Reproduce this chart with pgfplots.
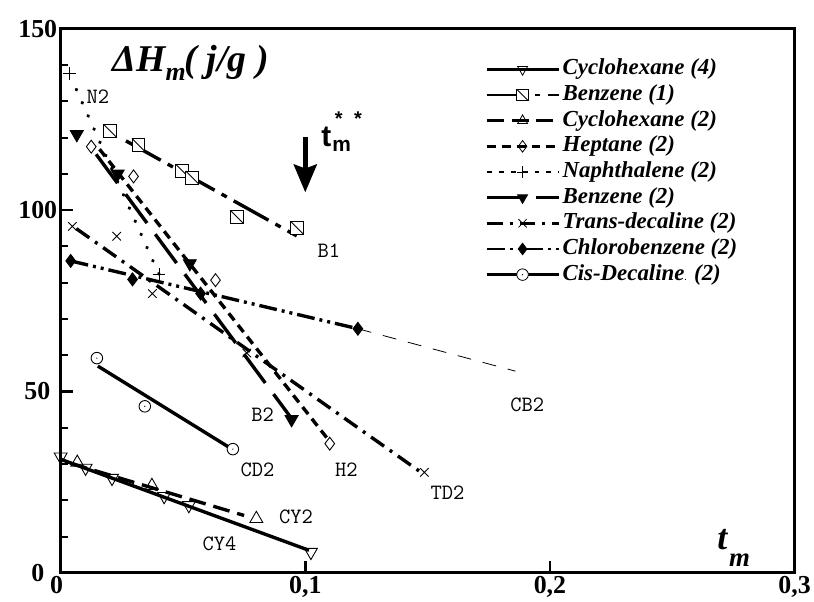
\documentclass[border=0pt]{standalone}
\usepackage{fontspec}
\setmainfont{Liberation Serif}
\newfontfamily\sansfont{Liberation Sans}
\usepackage{pgfplots}
\pgfplotsset{compat=1.18}
\usetikzlibrary{arrows.meta}

% square with a diagonal stroke
\pgfdeclareplotmark{sqdiag}{%
  \pgfpathrectangle{\pgfqpoint{-\pgfplotmarksize}{-\pgfplotmarksize}}{\pgfqpoint{2\pgfplotmarksize}{2\pgfplotmarksize}}%
  \pgfusepathqfillstroke
  \pgfpathmoveto{\pgfqpoint{-\pgfplotmarksize}{\pgfplotmarksize}}%
  \pgfpathlineto{\pgfqpoint{\pgfplotmarksize}{-\pgfplotmarksize}}%
  \pgfusepathqstroke}
% circle with a centre dot
\pgfdeclareplotmark{odot}{%
  \pgfpathcircle{\pgfpointorigin}{\pgfplotmarksize}%
  \pgfusepathqfillstroke
  \begin{pgfscope}%
    \pgfsetfillcolor{black}%
    \pgfpathcircle{\pgfpointorigin}{0.7pt}%
    \pgfusepathqfill
  \end{pgfscope}}

\pgfplotsset{
  fitline/.style={black, line width=3.4pt, no marks},
  pts/.style={black, only marks, mark options={solid, fill=white, line width=0.9pt}},
  sCYfour/.style={mark=triangle, mark size=7.5pt, every mark/.append style={rotate=180}},
  sBone/.style={mark=sqdiag, mark size=6.5pt},
  sCYtwo/.style={mark=triangle, mark size=7.5pt},
  sHtwo/.style={mark=diamond, mark size=6.5pt},
  sNtwo/.style={mark=+, mark size=6.5pt},
  sBtwo/.style={mark=triangle*, mark size=7.5pt, every mark/.append style={rotate=180, fill=black}},
  sTDtwo/.style={mark=x, mark size=6pt},
  sCBtwo/.style={mark=diamond*, mark size=6.5pt, every mark/.append style={fill=black}},
  sCDtwo/.style={mark=odot, mark size=5.8pt},
  dCYtwo/.style={dash pattern=on 17pt off 8pt},
  dBone/.style={dash pattern=on 40pt off 8pt on 6pt off 8pt},
  dHtwo/.style={dash pattern=on 9pt off 6pt},
  dNtwo/.style={line cap=round, dash pattern=on 0.5pt off 14pt},
  dBtwo/.style={dash pattern=on 36pt off 14pt},
  dTDtwo/.style={dash pattern=on 16pt off 7pt on 3pt off 7pt},
  dCBtwo/.style={dash pattern=on 18pt off 5pt on 3pt off 5pt on 3pt off 5pt},
  leg/.style={black, line width=2.5pt, mark options={solid, fill=white, line width=0.8pt, mark size=5.8pt}},
}

\begin{document}
\begin{tikzpicture}
\begin{axis}[
  scale only axis, width=738pt, height=547pt,
  xmin=0, xmax=0.3, ymin=0, ymax=150,
  axis line style={line width=3pt},
  xtick={0,0.1,0.2,0.3}, xticklabels={{0\kern8pt},{0,1},{0,2},{0,3}},
  ytick={0,50,100,150}, yticklabels={{0\kern13pt},{50\kern7pt},100,150},
  minor ytick={10,20,30,40,60,70,80,90,110,120,130,140},
  tick align=inside, xtick pos=left, ytick pos=left,
  major tick length=12pt, minor tick length=7pt,
  every tick/.style={black, line width=2.5pt},
  every minor tick/.style={black, line width=2pt},
  ticklabel style={font=\fontsize{26}{26}\selectfont\bfseries},
  clip=false,
  legend image code/.code={\draw[mark repeat=2, mark phase=2, #1] plot coordinates {(0pt,0pt) (36pt,0pt) (73pt,0pt)};},
  legend style={at={(axis cs:0.1736,142.3)}, anchor=north west, draw=none, fill=none,
    inner sep=0pt, row sep=0.8pt,
    font=\fontsize{23}{23}\selectfont\bfseries\itshape,
    nodes={inner sep=2pt, text height=16pt, text depth=5pt}},
  legend cell align=left,
]

% legend entries
\addlegendimage{leg, sCYfour}
\addlegendentry{Cyclohexane (4)}
\addlegendimage{leg, sBone, dBone}
\addlegendentry{Benzene (1)}
\addlegendimage{leg, sCYtwo, dCYtwo}
\addlegendentry{Cyclohexane (2)}
\addlegendimage{leg, sHtwo, dHtwo}
\addlegendentry{Heptane (2)}
\addlegendimage{leg, sNtwo, dash pattern=on 5pt off 7pt}
\addlegendentry{Naphthalene (2)}
\addlegendimage{leg, sBtwo, dBtwo}
\addlegendentry{Benzene (2)}
\addlegendimage{leg, sTDtwo, dTDtwo}
\addlegendentry{Trans-decaline (2)}
\addlegendimage{leg, sCBtwo, dCBtwo}
\addlegendentry{Chlorobenzene (2)}
\addlegendimage{leg, sCDtwo}
\addlegendentry{Cis-Decaline{\fontsize{8}{8}\selectfont\upshape.} (2)}

% fitted lines
\addplot[fitline, forget plot] coordinates {(0.0,31.3) (0.1015,6.2)};
\addplot[fitline, dCYtwo, forget plot] coordinates {(0.004,30.2) (0.075,15.8)};
\addplot[fitline, forget plot] coordinates {(0.0152,57.0) (0.0703,34.0)};
\addplot[fitline, dBone, forget plot] coordinates {(0.0267,119.1) (0.0965,92.9)};
\addplot[fitline, dBtwo, forget plot] coordinates {(0.0145,115.4) (0.0951,41.9)};
\addplot[fitline, dHtwo, forget plot] coordinates {(0.0159,116.8) (0.1093,36.8)};
\addplot[fitline, dNtwo, forget plot] coordinates {(0.0064,133.3) (0.0402,82.3)};
\addplot[fitline, dTDtwo, forget plot] coordinates {(0.0064,94.9) (0.1473,27.7)};
\addplot[fitline, dCBtwo, forget plot] coordinates {(0.0041,86.0) (0.1215,67.3)};
\addplot[black, line width=0.8pt, dash pattern=on 14pt off 12pt, no marks, forget plot] coordinates {(0.1215,67.3) (0.1859,55.6)};

% measured points
\addplot[pts, sCYfour, forget plot] coordinates {(0.0,32.0) (0.0102,28.9) (0.0210,26.1) (0.0423,21.1) (0.0524,18.6) (0.1023,5.7)};
\addplot[pts, sCYtwo, forget plot] coordinates {(0.0068,30.4) (0.0373,24.0) (0.0800,14.9)};
\addplot[pts, sCDtwo, forget plot] coordinates {(0.0148,59.2) (0.0344,45.9) (0.0704,34.1)};
\addplot[pts, sBone, forget plot] coordinates {(0.0203,121.8) (0.0318,118.0) (0.0497,110.9) (0.0538,109.0) (0.0721,98.1) (0.0967,95.1)};
\addplot[pts, sBtwo, forget plot] coordinates {(0.0066,120.9) (0.0233,110.0) (0.0528,85.3) (0.0944,42.3)};
\addplot[pts, sHtwo, forget plot] coordinates {(0.0125,117.5) (0.0298,109.3) (0.0633,80.7) (0.1100,35.6)};
\addplot[pts, sNtwo, forget plot] coordinates {(0.0037,137.8) (0.0402,82.3)};
\addplot[pts, sTDtwo, forget plot] coordinates {(0.0048,95.5) (0.0229,92.8) (0.0375,77.0) (0.0761,60.6) (0.1487,27.7)};
\addplot[pts, sCBtwo, forget plot] coordinates {(0.0041,86.0) (0.0294,80.9) (0.0572,77.0) (0.1215,67.3)};

% curve names
\begin{scope}[every node/.style={font=\fontsize{22}{22}\selectfont\ttfamily, inner sep=0pt}]
\node at (axis cs:0.0152,131.4) {N2};
\node at (axis cs:0.1096,88.9) {B1};
\node at (axis cs:0.0826,43.7) {B2};
\node at (axis cs:0.0805,28.3) {CD2};
\node at (axis cs:0.1168,28.3) {H2};
\node at (axis cs:0.1581,22.2) {TD2};
\node at (axis cs:0.1907,46.4) {CB2};
\node at (axis cs:0.0962,15.4) {CY2};
\node at (axis cs:0.0649,7.9) {CY4};
\end{scope}

% axis titles
\node[anchor=base west, inner sep=0pt, font=\fontsize{38}{38}\selectfont\bfseries\itshape]
  at (axis cs:0.0211,138.3) {ΔH\raisebox{-9pt}{\fontsize{26}{26}\selectfont m}\kern-1pt( j/g )};
\node[anchor=base west, inner sep=0pt, font=\fontsize{36}{36}\selectfont\bfseries\itshape]
  at (axis cs:0.2684,6.3) {t};
\node[anchor=base west, inner sep=0pt, font=\fontsize{27}{27}\selectfont\bfseries\itshape]
  at (axis cs:0.2732,1.6) {m};

% t_m** marker
\draw[line width=5pt, -{Stealth[length=28pt, width=23pt, inset=4pt]}] (axis cs:0.1,120.1) -- (axis cs:0.1,104.9);
\node[anchor=base west, inner sep=0pt, font=\fontsize{30}{30}\selectfont\sansfont\bfseries] at (axis cs:0.1065,117.6) {t};
\node[anchor=base west, inner sep=0pt, font=\fontsize{21}{21}\selectfont\sansfont\bfseries] at (axis cs:0.111,116.1) {m};
\node[anchor=base, inner sep=0pt, font=\fontsize{20}{20}\selectfont\sansfont\bfseries] at (axis cs:0.1137,123.3) {*};
\node[anchor=base, inner sep=0pt, font=\fontsize{20}{20}\selectfont\sansfont\bfseries] at (axis cs:0.1215,123.3) {*};

% page frame
\path (rel axis cs:0,0) ++(-61pt,-29pt) rectangle ++(814pt,605pt);
\end{axis}
\end{tikzpicture}
\end{document}
